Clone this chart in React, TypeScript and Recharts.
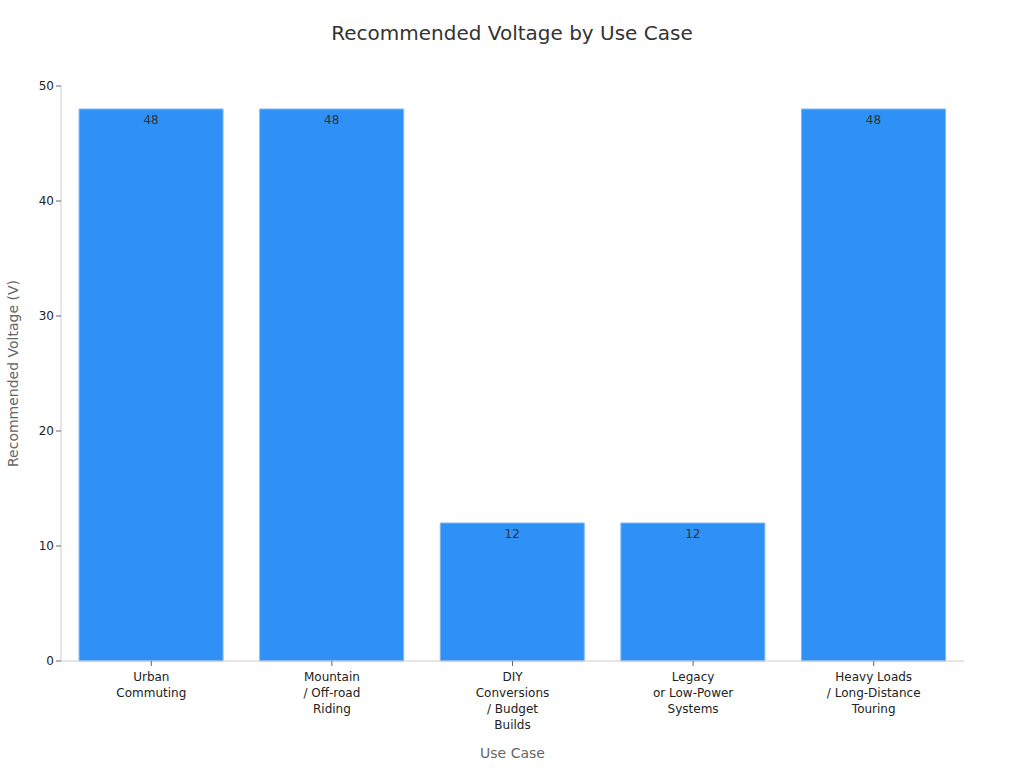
import React from 'react';
import { BarChart, Bar, XAxis, YAxis, LabelList } from 'recharts';

const categories = [
  'Urban\nCommuting',
  'Mountain\n/ Off-road\nRiding',
  'DIY\nConversions\n/ Budget\nBuilds',
  'Legacy\nor Low-Power\nSystems',
  'Heavy Loads\n/ Long-Distance\nTouring',
];
const voltages = [48, 48, 12, 12, 48];
const yTicks = [0, 10, 20, 30, 40, 50];

const data = categories.map((c, i) => ({ name: c, value: voltages[i] }));

const FONT = '"DejaVu Sans", Verdana, sans-serif';

const XTick = (props: any) => {
  const { x, y, payload } = props;
  const lines = String(payload.value).split('\n');
  return (
    <g transform={`translate(${x},${y})`}>
      <text textAnchor="middle" fill="#222" fontSize={12} fontFamily={FONT}>
        {lines.map((l, i) => (
          <tspan key={i} x={0} y={0} dy={13 + i * 16}>{l}</tspan>
        ))}
      </text>
    </g>
  );
};

export default function App() {
  return (
    <div style={{ position: 'absolute', left: 0, top: 0, width: 1024, height: 768, background: '#fff', fontFamily: FONT }}>
      <div style={{ position: 'absolute', left: 0, top: 21, width: 1024, textAlign: 'center', fontSize: 20, color: '#333' }}>
        Recommended Voltage by Use Case
      </div>
      <BarChart
        width={1024}
        height={768}
        data={data}
        margin={{ top: 86, right: 60, bottom: 0, left: 1 }}
        barCategoryGap="10%"
      >
        <XAxis
          dataKey="name"
          tick={<XTick />}
          interval={0}
          height={107}
          stroke="#ccc"
          tickLine={{ stroke: '#666' }}
          tickSize={5}
          label={{ value: 'Use Case', position: 'insideBottom', offset: 10, fill: '#666', fontSize: 14, fontFamily: FONT }}
        />
        <YAxis
          domain={[0, 50]}
          ticks={yTicks}
          width={60}
          stroke="#ccc"
          tickLine={{ stroke: '#666' }}
          tickSize={5}
          tick={{ fill: '#222', fontSize: 12, fontFamily: FONT }}
          label={{ value: 'Recommended Voltage (V)', angle: -90, position: 'insideLeft', offset: 12, fill: '#666', fontSize: 14, fontFamily: FONT, style: { textAnchor: 'middle' } }}
        />
        <Bar dataKey="value" fill="#2f91f6" stroke="#7fb8f5" strokeWidth={1} isAnimationActive={false}>
          <LabelList dataKey="value" position="insideTop" offset={6} fill="#333" fontSize={12} fontFamily={FONT} />
        </Bar>
      </BarChart>
    </div>
  );
}
